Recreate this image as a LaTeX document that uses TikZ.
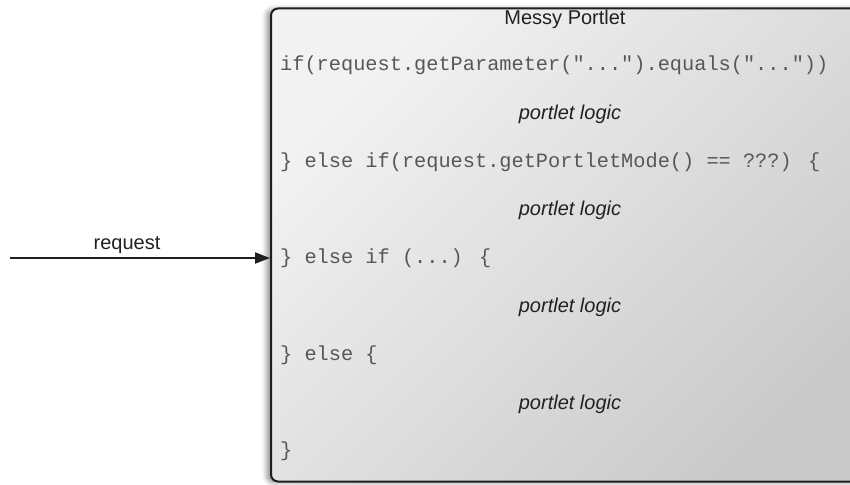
\documentclass[tikz,border=0pt]{standalone}
\usepackage{fontspec}
\setmainfont{Liberation Sans}
\newfontfamily\codefont{Liberation Mono}
\usetikzlibrary{arrows.meta,shadows.blur}
\begin{document}
\begin{tikzpicture}[x=1pt,y=-1pt,
  portlet/.style={draw=black!88, line width=2pt, rounded corners=7pt,
    top color=white!95!black, bottom color=black!21, shading angle=45,
    blur shadow={shadow xshift=-4pt, shadow yshift=-1pt, shadow blur radius=5pt, shadow blur steps=8, shadow opacity=45}},
  title/.style={font=\fontsize{20}{24}\selectfont, text=black!87},
  code/.style={anchor=west, font=\codefont\fontsize{20.3}{24}\selectfont, text=black!66, inner sep=0pt},
  logic/.style={font=\itshape\fontsize{20}{24}\selectfont, text=black!87},
  flow/.style={line width=2pt, draw=black!88, -{Triangle[length=15pt,width=11pt]}}]
\useasboundingbox (0,0) rectangle (850,484);
\node[portlet, minimum width=610pt, minimum height=473pt, inner sep=0pt] (box) at (576,245) {};
\node[title] (ttl) at (565,19) {Messy Portlet};
\node[code] (c1) at (280,65) {if(request.getParameter("...").equals("..."))};
\node[logic] (l1) at (570,114) {portlet logic};
\node[code] (c2) at (280,162) {\} else if(request.getPortletMode() == ???) \{};
\node[logic] (l2) at (570,210) {portlet logic};
\node[code] (c3) at (280,258) {\} else if (...) \{};
\node[logic] (l3) at (570,307) {portlet logic};
\node[code] (c4) at (280,355) {\} else \{};
\node[logic] (l4) at (570,404) {portlet logic};
\node[code] (c5) at (280,451) {\}};
\coordinate (src) at (10,258);
\draw[flow] (src) -- (src -| box.west);
\node[title] (req) at (127,245) {request};
\end{tikzpicture}
\end{document}
